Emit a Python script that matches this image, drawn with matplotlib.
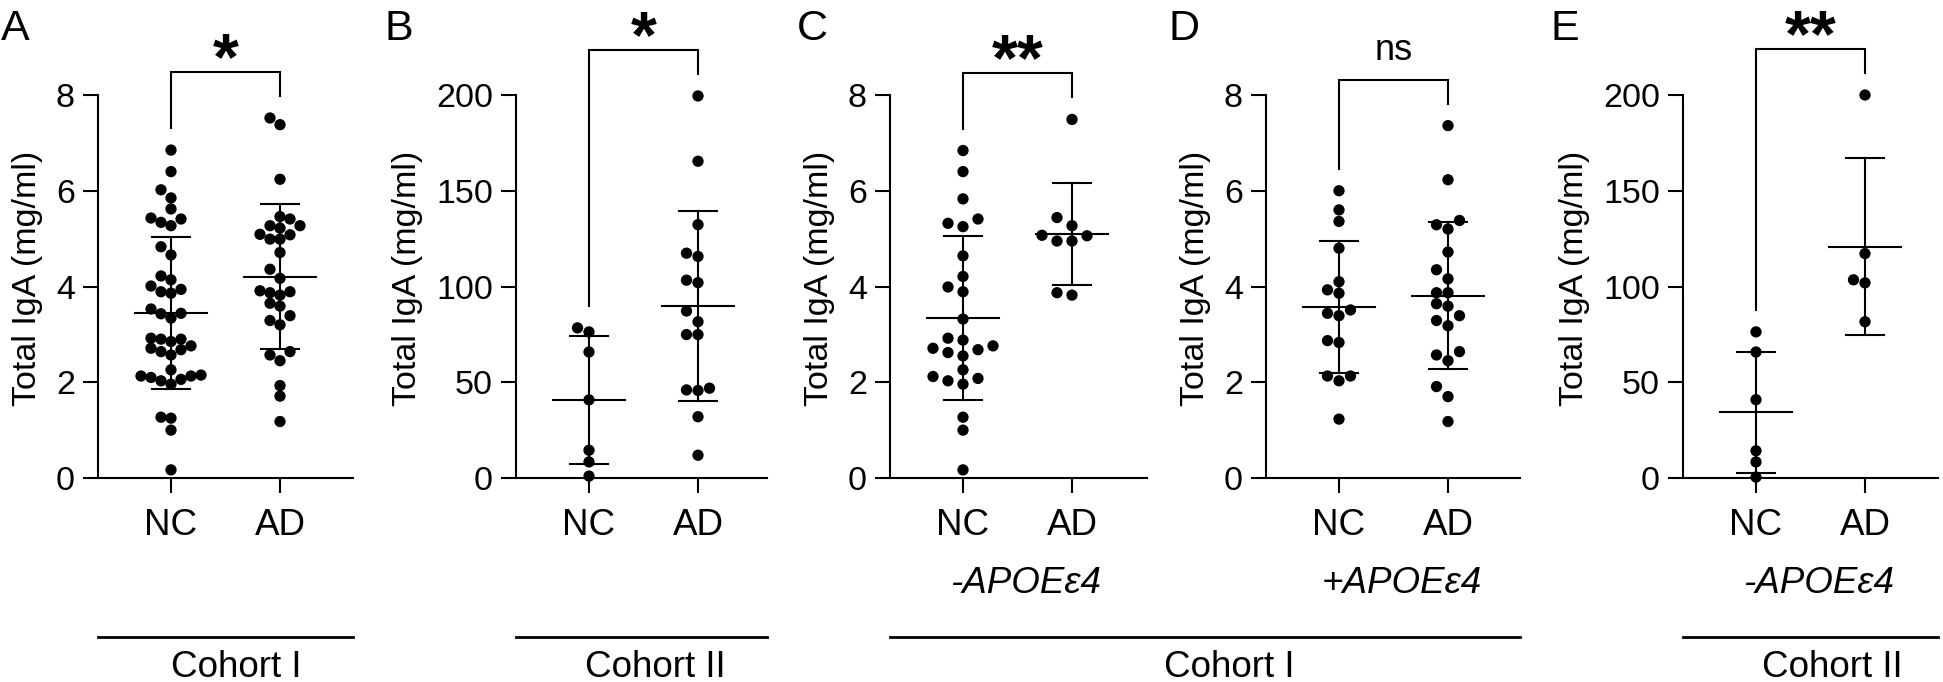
import numpy as np
import matplotlib
matplotlib.use("Agg")
import matplotlib.pyplot as plt
from matplotlib.lines import Line2D
from matplotlib.transforms import blended_transform_factory

plt.rcParams['font.family'] = ['Liberation Sans', 'DejaVu Sans']

W, H = 1943, 682
DPI = 100

groups = ['NC', 'AD']
ylabel = 'Total IgA (mg/ml)'
panel_letters = ['A', 'B', 'C', 'D', 'E']
sig_labels = ['*', '*', '**', 'ns', '**']
subgroup_labels = ['', '', '-APOE\u03b54', '+APOE\u03b54', '-APOE\u03b54']
cohort_labels = ['Cohort I', 'Cohort II', 'Cohort I', 'Cohort II']

# ---- data (Total IgA, mg/ml) ----
a_nc = [6.85, 6.40, 6.02, 5.85, 5.62, 5.34, 5.27, 5.41, 5.43, 4.83, 4.66, 4.22,
        4.14, 3.94, 3.89, 4.01, 3.86, 3.53, 3.34, 3.44, 3.43, 2.90, 2.92, 2.90,
        2.85, 2.71, 2.68, 2.76, 2.57, 2.64, 2.26, 2.10, 2.13, 2.06, 1.96, 2.03,
        2.13, 2.15, 1.27, 1.25, 1.00, 0.17]
a_ad = [7.52, 7.38, 6.24, 5.46, 5.41, 5.22, 5.27, 5.27, 5.08, 5.09, 4.99, 4.99,
        4.71, 4.36, 4.17, 3.87, 3.82, 3.89, 3.91, 3.59, 3.65, 3.39, 3.20, 3.29,
        2.64, 2.57, 2.45, 1.93, 1.71, 1.18]
b_nc = [78.4, 76.3, 65.8, 40.8, 14.5, 8.4, 1.0]
b_ad = [199.5, 165.4, 132.3, 117.4, 115.7, 103.3, 102.0, 87.2, 81.6, 74.9, 74.9,
        46.0, 46.9, 45.7, 32.0, 11.9]
c_nc = [6.84, 6.40, 5.83, 5.25, 5.41, 5.32, 4.64, 4.21, 3.99, 3.89, 3.32, 2.88,
        2.92, 2.55, 2.62, 2.68, 2.71, 2.76, 2.08, 2.12, 2.26, 1.96, 2.03, 1.27,
        1.00, 0.17]
c_ad = [7.49, 5.44, 5.27, 5.07, 5.06, 4.95, 4.95, 3.87, 3.82]
d_nc = [6.00, 5.60, 5.36, 4.80, 4.10, 3.93, 3.86, 3.44, 3.51, 3.39, 2.83, 2.87,
        2.13, 2.03, 2.13, 1.23]
d_ad = [7.36, 6.23, 5.38, 5.29, 5.20, 4.72, 4.35, 4.16, 3.87, 3.87, 3.59, 3.64,
        3.39, 3.29, 3.18, 2.64, 2.57, 2.45, 1.91, 1.70, 1.18]
e_nc = [76.3, 65.8, 40.9, 14.2, 8.4, 0.5]
e_ad = [200.0, 117.2, 103.5, 101.9, 81.6]

panel_data = [(a_nc, a_ad), (b_nc, b_ad), (c_nc, c_ad), (d_nc, d_ad), (e_nc, e_ad)]
y_max = [8, 200, 8, 8, 200]
y_ticks = [[0, 2, 4, 6, 8], [0, 50, 100, 150, 200], [0, 2, 4, 6, 8],
           [0, 2, 4, 6, 8], [0, 50, 100, 150, 200]]

# ---- layout (pixels) ----
axes_px = [(98, 353), (516, 767), (890, 1147), (1266, 1520), (1683, 1938)]
ax_top_px, ax_bot_px = 95, 478
swarm_step_px = [10, 11.5, 15, 11.5, 11.5]
letter_x_px = [1, 384, 797, 1169, 1551]
letter_base_px = 40

fig = plt.figure(figsize=(W / DPI, H / DPI), dpi=DPI)

LW = 1.5
TICK_FS = 24.5
XLAB_FS = 26.5


def swarm_x(ax, xc, vals, step_px, thr_px):
    vals = np.asarray(vals, float)
    order = np.argsort(vals)
    placed = []
    res = np.zeros(len(vals))
    x0 = ax.transData.transform((xc, 0))[0]
    cands = [0]
    for m in range(1, 12):
        cands += [-m, m]
    for i in order:
        yp = ax.transData.transform((xc, vals[i]))[1]
        xp = x0
        for c in cands:
            xp = x0 + c * step_px
            if all((xp - px) ** 2 + (yp - py) ** 2 >= thr_px ** 2 for px, py in placed):
                break
        placed.append((xp, yp))
        res[i] = ax.transData.inverted().transform((xp, yp))[0]
    return res


axes = []
for p in range(5):
    l, r = axes_px[p]
    ax = fig.add_axes([l / W, 1 - ax_bot_px / H, (r - l) / W, (ax_bot_px - ax_top_px) / H])
    axes.append(ax)
    xr = (r - l - 73) / 109.0
    ax.set_xlim(-73 / 109.0, xr)
    ax.set_ylim(0, y_max[p])
    for s in ['top', 'right']:
        ax.spines[s].set_visible(False)
    for s in ['left', 'bottom']:
        ax.spines[s].set_linewidth(LW)
    ax.set_yticks(y_ticks[p])
    ax.set_xticks([0, 1])
    ax.set_xticklabels(groups)
    ax.tick_params(axis='y', length=10.8, width=LW, pad=5.8, labelsize=TICK_FS)
    ax.tick_params(axis='x', length=10.8, width=LW, pad=11, labelsize=XLAB_FS)
    ax.set_ylabel(ylabel, fontsize=TICK_FS, labelpad=9)
    ax.yaxis.label.set_y(0.521)

    step = swarm_step_px[p]
    thr = min(0.98 * step, 11.0)
    tops_px = []
    for gi, vals in enumerate(panel_data[p]):
        xs = swarm_x(ax, gi, vals, step, thr)
        ax.scatter(xs, vals, s=66, color='black', edgecolors='none', zorder=3, clip_on=False)
        m = np.mean(vals)
        sd = np.std(vals, ddof=1)
        ax.plot([gi - 0.33, gi + 0.33], [m, m], color='black', lw=LW, zorder=4)
        ax.plot([gi - 0.175, gi + 0.175], [m + sd, m + sd], color='black', lw=LW, zorder=4)
        ax.plot([gi - 0.175, gi + 0.175], [m - sd, m - sd], color='black', lw=LW, zorder=4)
        ax.plot([gi, gi], [m - sd, m + sd], color='black', lw=LW, zorder=4)
        tops_px.append(ax.transData.transform((gi, max(vals)))[1])

    # significance bracket
    inv = ax.transData.inverted()
    leg0 = inv.transform((0, tops_px[0] + 22))[1]
    leg1 = inv.transform((0, tops_px[1] + 22))[1]
    top = inv.transform((0, max(tops_px) + 22 + 24))[1]
    ax.plot([0, 0, 1, 1], [leg0, top, top, leg1], color='black', lw=LW,
            clip_on=False, solid_joinstyle='miter')
    if sig_labels[p] == 'ns':
        ax.annotate('ns', xy=(0.5, top), xytext=(0, 14), textcoords='offset points',
                    ha='center', va='baseline', fontsize=26, annotation_clip=False)
    else:
        ax.annotate(sig_labels[p], xy=(0.5, top), xytext=(0, -5), textcoords='offset points',
                    ha='center', va='baseline', fontsize=48, fontweight='bold',
                    annotation_clip=False)

    # subgroup label
    if subgroup_labels[p]:
        tr = blended_transform_factory(ax.transData, fig.transFigure)
        ax.text(0.573, 1 - 593 / H, subgroup_labels[p], transform=tr,
                ha='center', va='baseline', fontsize=XLAB_FS, style='italic')

    fig.text(letter_x_px[p] / W, 1 - letter_base_px / H, panel_letters[p],
             fontsize=31, ha='left', va='baseline')

# cohort separators
spans = [(0, 0), (1, 1), (2, 3), (4, 4)]
cohort_x_px = [236, 655, 1229, 1832]
for k, (i0, i1) in enumerate(spans):
    x0 = axes_px[i0][0] / W
    x1 = axes_px[i1][1] / W
    y = 1 - 637 / H
    fig.add_artist(Line2D([x0, x1], [y, y], transform=fig.transFigure, color='black', lw=2.0))
    fig.text(cohort_x_px[k] / W, 1 - 677 / H, cohort_labels[k], ha='center', va='baseline',
             fontsize=XLAB_FS)

fig.savefig('out.png', dpi=DPI)
